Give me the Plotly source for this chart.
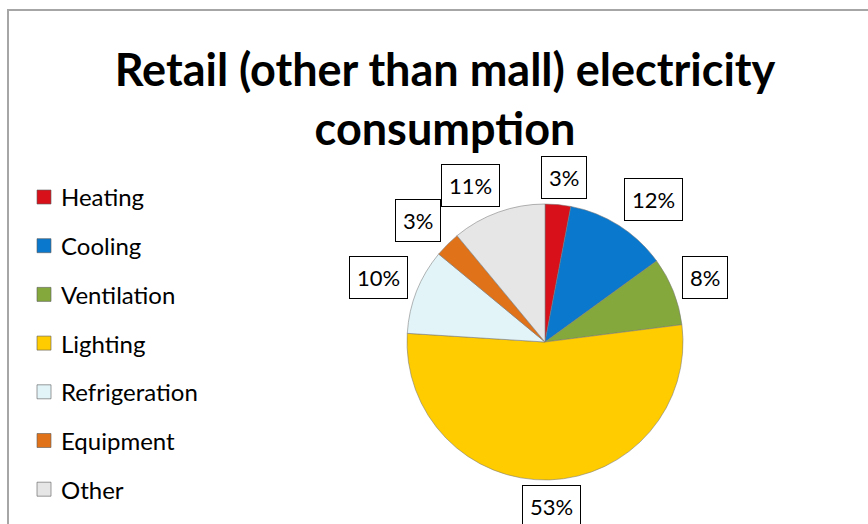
import math
import plotly.graph_objects as go

# Retail (other than mall) electricity consumption by end use, percent
categories = ["Heating", "Cooling", "Ventilation", "Lighting", "Refrigeration", "Equipment", "Other"]
shares = [3, 12, 8, 53, 10, 3, 11]
colors = ["#D8101A", "#0A78CC", "#84A83C", "#FFCC00", "#E2F4F8", "#E0731A", "#E6E6E6"]

W, H = 868, 524
CX, CY, R = 545, 342, 138  # pie centre and radius, pixels


def px(x):
    return x / W


def py(y):
    return 1 - y / H


fig = go.Figure(
    go.Pie(
        labels=categories,
        values=shares,
        sort=False,
        direction="clockwise",
        rotation=0,
        textinfo="none",
        hoverinfo="label+percent",
        showlegend=False,
        marker=dict(colors=colors, line=dict(color="rgba(120,120,120,0.55)", width=1)),
        domain=dict(x=[px(CX - R), px(CX + R)], y=[py(CY + R), py(CY - R)]),
    )
)

# boxed percentage labels just outside each slice, placed on the mid-angle ray
annotations = []
total = sum(shares)
cum = 0
gap = 9
for name, v in zip(categories, shares):
    mid = (cum + v / 2) / total * 2 * math.pi
    cum += v
    s, c = math.sin(mid), math.cos(mid)
    ex, ey = CX + (R + gap) * s, CY - (R + gap) * c
    label = f"{round(v / total * 100)}%"
    bw, bh = 20 + 13 * len(label), 36
    sx = max(-1, min(1, 2.5 * s))
    sy = max(-1, min(1, 1.5 * c))
    bx = ex + sx * bw / 2
    by = ey - sy * bh / 2
    annotations.append(dict(
        x=px(bx), y=py(by), xref="paper", yref="paper",
        text=label, showarrow=False,
        font=dict(family="Lato", size=22, color="#000000"),
        bordercolor="#000000", borderwidth=1, borderpad=7,
        bgcolor="#FFFFFF", xanchor="center", yanchor="middle",
    ))

# legend entries down the left side
shapes = []
LX, LY0, LSTEP, SQ = 37, 197, 48.7, 14
for i, (name, col) in enumerate(zip(categories, colors)):
    yc = LY0 + i * LSTEP
    shapes.append(dict(
        type="rect", xref="paper", yref="paper",
        x0=px(LX), x1=px(LX + SQ), y0=py(yc + SQ / 2), y1=py(yc - SQ / 2),
        fillcolor=col, line=dict(color="rgba(90,90,90,0.6)", width=1),
    ))
    annotations.append(dict(
        x=px(LX + SQ + 8), y=py(yc), xref="paper", yref="paper",
        text=name, showarrow=False, xanchor="left", yanchor="middle",
        font=dict(family="Lato", size=24, color="#000000"),
    ))

# chart frame
shapes.append(dict(
    type="rect", xref="paper", yref="paper",
    x0=px(8), x1=px(W + 10), y0=py(H + 10), y1=py(10),
    line=dict(color="#A6A6A6", width=2), fillcolor="rgba(0,0,0,0)",
))

fig.update_layout(
    width=W, height=H,
    margin=dict(l=0, r=0, t=0, b=0),
    paper_bgcolor="#FFFFFF",
    title=dict(
        text="<b>Retail (other than mall) electricity<br>consumption</b>",
        x=px(445), xanchor="center", y=py(86), yanchor="middle",
        font=dict(family="Lato", size=45, color="#000000"),
    ),
    annotations=annotations,
    shapes=shapes,
)

fig.write_html("out.html")
